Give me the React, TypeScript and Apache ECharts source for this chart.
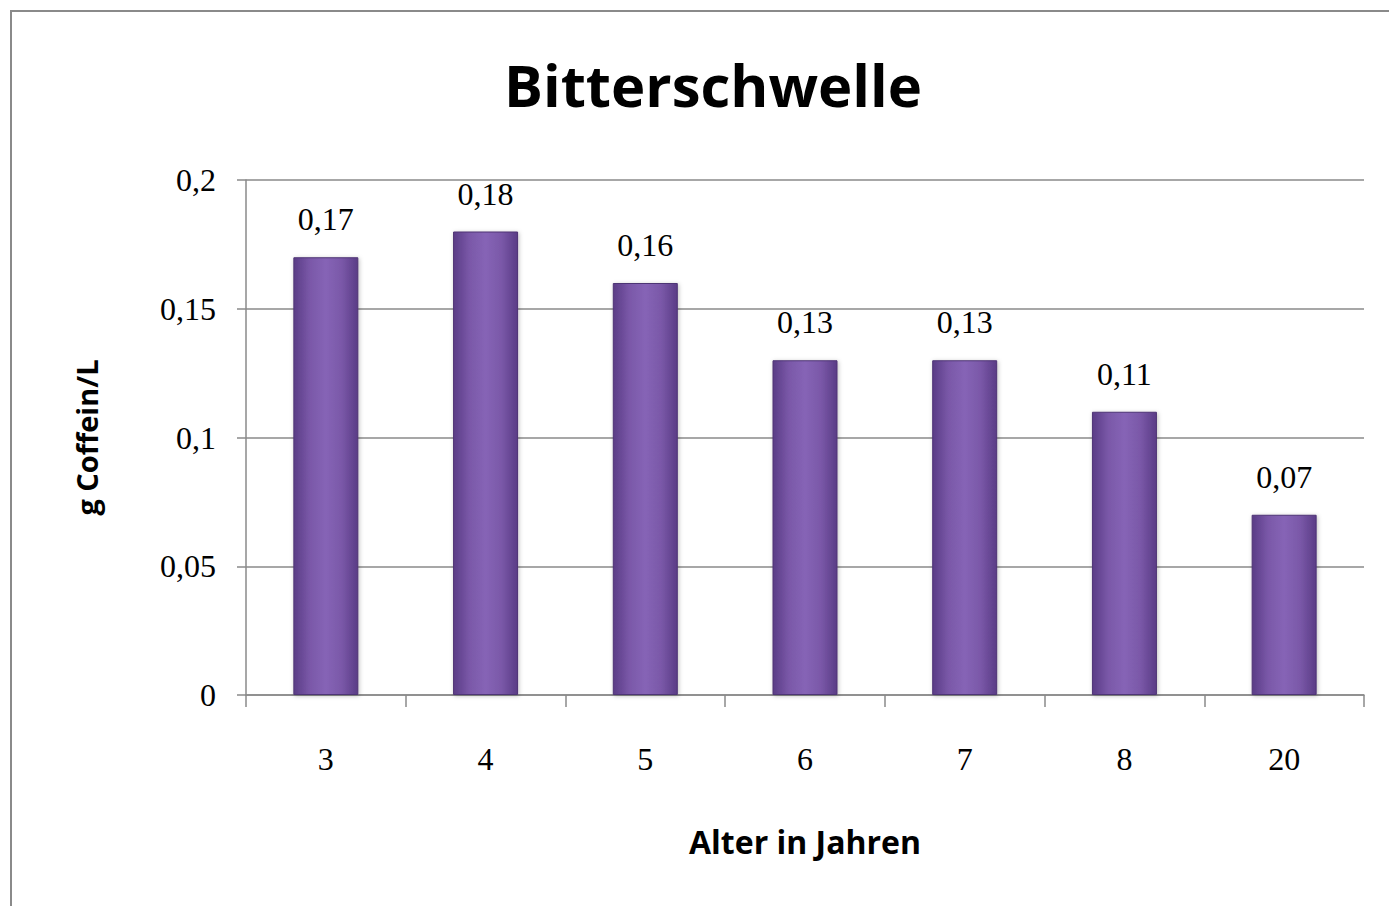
import React, { useEffect, useRef } from "react";
import * as echarts from "echarts";

const categories = ["3", "4", "5", "6", "7", "8", "20"];
const values = [0.17, 0.18, 0.16, 0.13, 0.13, 0.11, 0.07];
const yTicks = { min: 0, max: 0.2, interval: 0.05 };

const fmt = (v: number) => String(Number(v.toFixed(4))).replace(".", ",");

export default function App() {
  const ref = useRef<HTMLDivElement>(null);
  useEffect(() => {
    document.body.style.margin = "0";
    const chart = echarts.init(ref.current!, null, { renderer: "svg" });
    const barColor = new echarts.graphic.LinearGradient(0, 0, 1, 0, [
      { offset: 0, color: "#5a3c86" },
      { offset: 0.25, color: "#7a58a8" },
      { offset: 0.5, color: "#8664b6" },
      { offset: 0.75, color: "#7a58a8" },
      { offset: 1, color: "#5a3c86" },
    ]);
    chart.setOption({
      animation: false,
      backgroundColor: "#ffffff",
      title: {
        text: "Bitterschwelle",
        left: 708,
        top: 50,
        textAlign: "center",
        textStyle: {
          fontFamily: "Open Sans",
          fontWeight: "bold",
          fontSize: 58,
          color: "#000",
        },
      },
      graphic: [
        {
          type: "rect",
          shape: { x: 11, y: 11, width: 1400, height: 920 },
          style: { fill: "none", stroke: "#8a8a8a", lineWidth: 2 },
          silent: true,
          z: 100,
        },
      ],
      grid: { left: 246, right: 25, top: 180, bottom: 211 },
      xAxis: {
        type: "category",
        data: categories,
        name: "Alter in Jahren",
        nameLocation: "middle",
        nameGap: 130,
        nameTextStyle: {
          fontFamily: "Open Sans",
          fontWeight: "bold",
          fontSize: 32,
          color: "#000",
        },
        axisLine: { show: true, lineStyle: { color: "#8a8a8a", width: 1.5 } },
        axisTick: { show: true, length: 12, lineStyle: { color: "#8a8a8a", width: 1.5 } },
        axisLabel: {
          fontFamily: "Liberation Serif",
          fontSize: 32,
          color: "#000",
          margin: 48,
        },
      },
      yAxis: {
        type: "value",
        min: yTicks.min,
        max: yTicks.max,
        interval: yTicks.interval,
        name: "g Coffein/L",
        nameLocation: "middle",
        nameGap: 145,
        nameRotate: 90,
        nameTextStyle: {
          fontFamily: "Open Sans",
          fontWeight: "bold",
          fontSize: 29,
          color: "#000",
        },
        axisLine: { show: true, lineStyle: { color: "#8a8a8a", width: 1.5 } },
        axisTick: { show: true, length: 9, lineStyle: { color: "#8a8a8a", width: 1.5 } },
        splitLine: { show: true, lineStyle: { color: "#8a8a8a", width: 1.5 } },
        axisLabel: {
          fontFamily: "Liberation Serif",
          fontSize: 32,
          color: "#000",
          margin: 30,
          formatter: (v: number) => fmt(v),
        },
      },
      series: [
        {
          type: "bar",
          data: values,
          barWidth: 65,
          itemStyle: {
            color: barColor,
            borderColor: "#4e3475",
            borderWidth: 1,
            shadowColor: "rgba(0,0,0,0.25)",
            shadowBlur: 4,
            shadowOffsetX: 1,
            shadowOffsetY: 1,
          },
          label: {
            show: true,
            position: "top",
            distance: 22,
            fontFamily: "Liberation Serif",
            fontSize: 32,
            color: "#000",
            formatter: (p: any) => fmt(p.value),
          },
        },
      ],
    });
    return () => chart.dispose();
  }, []);
  return <div ref={ref} style={{ width: 1389, height: 906 }} />;
}
